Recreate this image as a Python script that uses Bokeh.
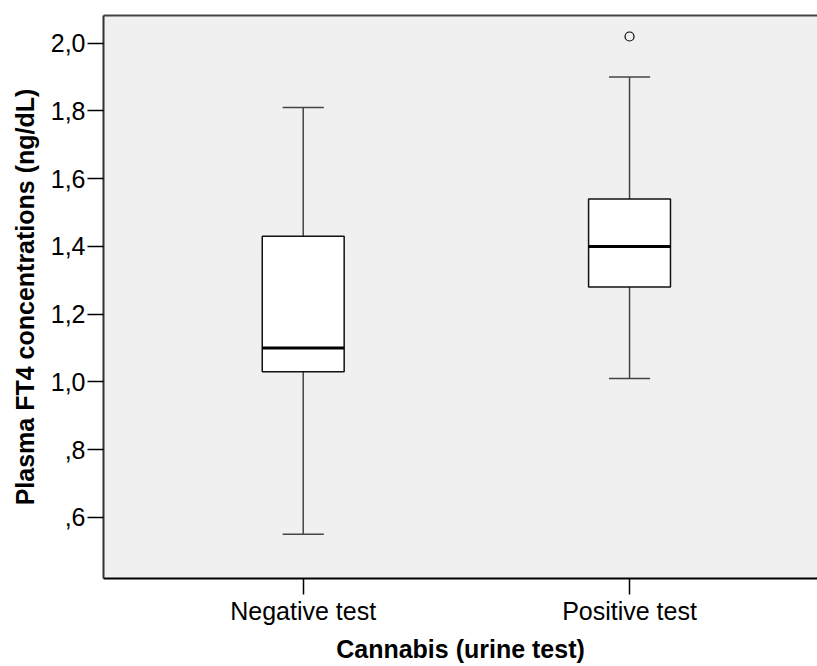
from bokeh.plotting import figure
from bokeh.models import Range1d, FixedTicker, LinearAxis, ColumnDataSource
from bokeh.embed import file_html
from bokeh.resources import INLINE

# ---- data ----
categories = ["Negative test", "Positive test"]
lower_whisker = [0.55, 1.01]
q1 = [1.03, 1.28]
median = [1.10, 1.40]
q3 = [1.43, 1.54]
upper_whisker = [1.81, 1.90]
outlier_group = ["Positive test"]
outlier_value = [2.02]

y_ticks = [0.6, 0.8, 1.0, 1.2, 1.4, 1.6, 1.8, 2.0]
y_tick_labels = [",6", ",8", "1,0", "1,2", "1,4", "1,6", "1,8", "2,0"]

FONT = "Liberation Sans"
box_w = 0.251
cap_w = 0.126

xs = [i + 1 for i in range(len(categories))]
src = ColumnDataSource(dict(
    x=xs, lo=lower_whisker, q1=q1, med=median, q3=q3, hi=upper_whisker,
    bl=[x - box_w / 2 for x in xs], br=[x + box_w / 2 for x in xs],
    cl=[x - cap_w / 2 for x in xs], cr=[x + cap_w / 2 for x in xs],
))
out_src = ColumnDataSource(dict(
    x=[categories.index(g) + 1 for g in outlier_group], y=outlier_value))

p = figure(width=817, height=666, output_backend="svg", toolbar_location=None,
           x_range=Range1d(0.388, 2.576), y_range=Range1d(0.419, 2.082),
           min_border_left=103, min_border_right=0, min_border_top=15,
           min_border_bottom=88)
p.background_fill_color = "#f0f0f0"
p.border_fill_color = "white"
p.outline_line_color = None
p.xgrid.visible = False
p.ygrid.visible = False

# whiskers
p.segment(x0="x", y0="q3", x1="x", y1="hi", source=src, line_color="#444444", line_width=1.5)
p.segment(x0="x", y0="q1", x1="x", y1="lo", source=src, line_color="#444444", line_width=1.5)
p.segment(x0="cl", y0="hi", x1="cr", y1="hi", source=src, line_color="#444444", line_width=1.5)
p.segment(x0="cl", y0="lo", x1="cr", y1="lo", source=src, line_color="#444444", line_width=1.5)
# boxes
p.vbar(x="x", width=box_w, bottom="q1", top="q3", source=src,
       fill_color="white", line_color="#111111", line_width=1.5)
# median
p.segment(x0="bl", y0="med", x1="br", y1="med", source=src, line_color="black", line_width=3)
# outliers
p.scatter(x="x", y="y", source=out_src, marker="circle", size=9,
          fill_color=None, line_color="black", line_width=1.2)

# axes
xa = p.xaxis[0]
xa.ticker = FixedTicker(ticks=xs)
xa.major_label_overrides = {x: c for x, c in zip(xs, categories)}
xa.axis_label = "Cannabis (urine test)"
ya = p.yaxis[0]
ya.ticker = FixedTicker(ticks=y_ticks)
ya.major_label_overrides = {t: l for t, l in zip(y_ticks, y_tick_labels)}
ya.axis_label = "Plasma FT4 concentrations (ng/dL)"
for ax in (xa, ya):
    ax.major_tick_in = 0
    ax.major_tick_out = 16
    ax.minor_tick_line_color = None
    ax.major_tick_line_color = "black"
    ax.major_tick_line_width = 1.5
    ax.axis_line_width = 2
    ax.major_label_text_font = FONT
    ax.major_label_text_font_size = "25px"
    ax.major_label_text_color = "black"
    ax.axis_label_text_font = FONT
    ax.axis_label_text_font_size = "25px"
    ax.axis_label_text_font_style = "bold"
    ax.axis_label_text_color = "black"
xa.axis_line_color = "black"
ya.axis_line_color = "#333333"
xa.major_label_standoff = 2
ya.major_label_standoff = 2
xa.axis_label_standoff = 7
ya.axis_label_standoff = 9

top = LinearAxis(ticker=FixedTicker(ticks=[]), axis_line_color="#444444",
                 axis_line_width=2, major_tick_line_color=None,
                 minor_tick_line_color=None, major_label_text_font_size="0px")
p.add_layout(top, "above")

open("out.html", "w").write(file_html(p, INLINE))
